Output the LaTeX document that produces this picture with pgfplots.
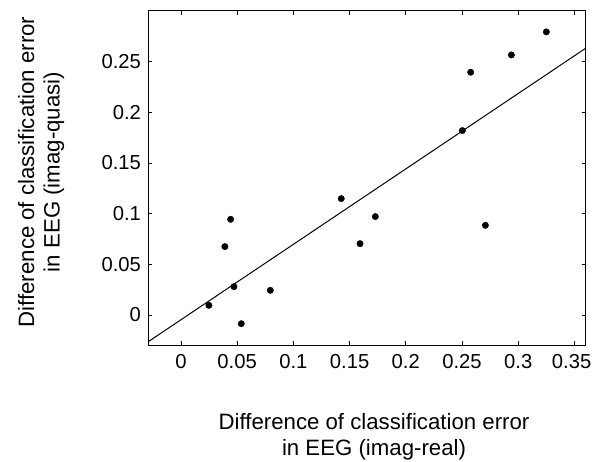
\documentclass[border=0pt]{standalone}
\usepackage{fontspec}
\setmainfont{Liberation Sans}
\usepackage{pgfplots}
\pgfplotsset{compat=1.18}
\begin{document}
\begin{tikzpicture}
\useasboundingbox (0,0) rectangle (592bp,462bp);
\begin{axis}[
  at={(148.3bp,117bp)}, anchor=south west,
  scale only axis, width=437.4bp, height=334.3bp,
  xmin=-0.029, xmax=0.36, ymin=-0.0296, ymax=0.30,
  xtick={0,0.05,0.1,0.15,0.2,0.25,0.3},
  extra x ticks={0.35},
  extra x tick style={xticklabel style={xshift=-2.8bp}},
  ytick={0,0.05,0.1,0.15,0.2,0.25},
  scaled ticks=false,
  tick align=inside, major tick length=4bp,
  tick style={line width=0.6bp, black},
  ticklabel style={font=\fontsize{20.3}{24}\selectfont,
    /pgf/number format/fixed, /pgf/number format/precision=2,
    /pgf/number format/assume math mode=true},
  xticklabel style={yshift=-5.9bp},
  yticklabel style={xshift=-3.8bp},
  axis line style={line width=0.8bp},
  xlabel={Difference of classification error\\in EEG (imag-real)},
  xlabel style={align=center, font=\fontsize{22.3}{25.7}\selectfont,
    at={(axis description cs:0.516,-0.2737)}, anchor=center},
  ylabel={Difference of classification error\\in EEG (imag-quasi)},
  ylabel style={align=center, font=\fontsize{22.3}{25.7}\selectfont,
    at={(axis description cs:-0.245,0.5175)}, anchor=center},
]
\addplot[only marks, mark=*, mark size=3.2bp, black] coordinates {
  (0.0249,0.0095) (0.0391,0.0674) (0.0442,0.0943) (0.0472,0.0279)
  (0.0537,-0.0086) (0.0795,0.0243) (0.1426,0.1147) (0.1593,0.0703)
  (0.1729,0.0970) (0.2503,0.1818) (0.2577,0.2393) (0.2708,0.0884)
  (0.2939,0.2564) (0.3250,0.2791)
};
\addplot[black, line width=1bp] coordinates {(-0.029,-0.0263) (0.36,0.263)};
\end{axis}
\end{tikzpicture}
\end{document}
